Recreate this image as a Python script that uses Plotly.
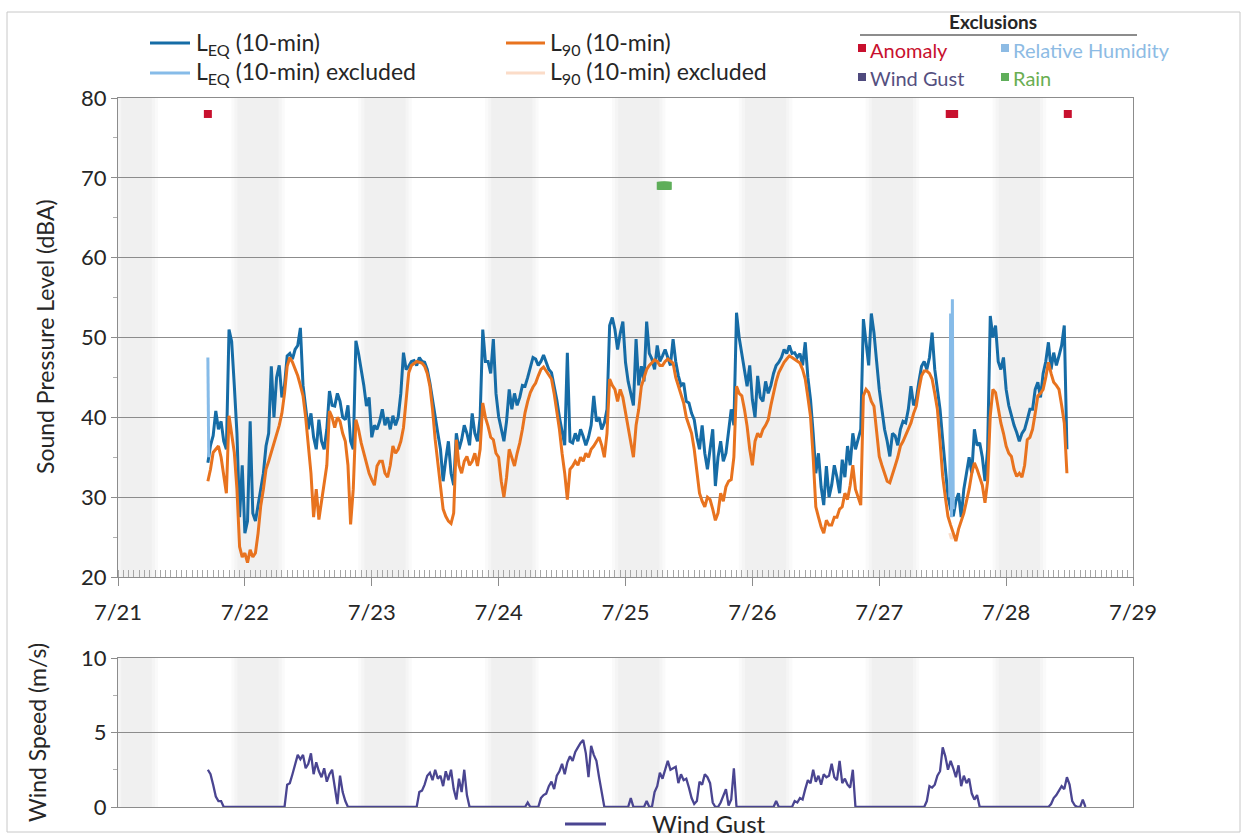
import plotly.graph_objects as go
import pandas as pd

W, H = 1241, 838
FONT = "Lato, 'Open Sans', sans-serif"
START = "2019-07-21 17:00"
STEP = "30min"

# ---------------- data (30-min samples starting 7/21 17:00) ----------------
leq_1 = [34.3, 36.5, 37.7, 40.8, 38.5, 39.5, 37.0, 36.0, 51.0, 49.5, 44.0, 38.0,
         27.5, 34.0, 25.5, 27.0, 39.5, 28.0, 27.0, 29.0, 30.5, 33.0, 36.4, 38.0,
         46.4, 40.0, 45.0, 46.5, 42.5, 44.0, 47.7, 48.0, 47.3, 48.5, 49.0, 51.2,
         44.0, 41.0, 38.5, 40.5, 37.5, 36.0, 39.7, 37.0, 36.0, 38.5, 43.3, 41.5]
leq_2 = [41.4, 43.0, 42.0, 40.0, 39.7, 41.5, 37.0, 36.0, 49.6, 48.0, 46.0, 44.0,
         41.4, 42.5, 37.5, 39.0, 38.5, 39.5, 41.0, 39.0, 40.0, 38.5, 40.2, 39.0,
         40.0, 43.0, 48.1, 46.0, 46.4, 47.0, 47.1, 46.5, 47.5, 47.0, 46.9, 46.0,
         44.3, 42.0, 40.1, 38.0, 36.0, 32.0, 34.7, 37.0, 33.0, 31.5, 38.0, 36.0]
leq_3 = [37.2, 39.0, 38.0, 36.5, 40.5, 38.0, 37.0, 40.0, 51.0, 47.0, 47.0, 45.5,
         49.8, 43.0, 40.1, 38.5, 37.0, 39.5, 43.5, 41.0, 43.0, 41.5, 42.5, 44.0,
         43.9, 45.0, 46.4, 47.5, 47.3, 46.5, 47.0, 47.8, 46.9, 46.0, 45.6, 44.0,
         42.2, 40.0, 38.0, 36.5, 48.1, 37.0, 36.8, 38.0, 37.0, 38.5, 37.6, 36.5]
leq_4 = [37.5, 39.0, 42.7, 39.5, 40.0, 38.5, 39.3, 41.0, 51.5, 52.5, 51.0, 48.5,
         50.5, 52.0, 46.9, 44.5, 43.0, 41.5, 49.8, 44.0, 46.4, 44.5, 52.0, 48.0,
         47.3, 46.0, 49.0, 47.0, 47.7, 48.5, 47.5, 46.5, 49.8, 47.0, 45.2, 44.0,
         44.3, 42.0, 41.8, 40.5, 39.7, 37.5, 36.0, 39.0, 35.5, 33.5, 36.0, 38.5]
leq_5 = [31.4, 35.0, 37.0, 34.5, 35.5, 38.0, 41.0, 39.0, 53.1, 50.0, 48.0, 46.0,
         43.9, 46.5, 42.2, 40.0, 45.2, 42.5, 42.0, 44.5, 43.0, 44.0, 45.5, 46.5,
         46.9, 47.5, 48.5, 48.0, 49.0, 48.0, 48.1, 47.5, 48.0, 46.5, 49.4, 45.0,
         42.2, 38.0, 33.0, 35.5, 31.3, 29.0, 33.9, 30.0, 31.5, 34.0, 32.5, 30.5]
leq_6 = [34.7, 32.5, 36.4, 34.0, 38.0, 36.0, 37.2, 38.5, 52.3, 49.0, 46.5, 53.0,
         50.6, 47.0, 43.5, 41.0, 38.5, 37.0, 35.1, 38.0, 37.7, 36.5, 38.5, 39.5,
         39.3, 41.0, 43.9, 41.5, 42.3, 44.5, 46.4, 47.0, 46.0, 47.5, 50.6, 46.0,
         43.5, 41.0, 37.2, 34.0, 30.1, 28.5, 27.6, 29.5, 30.5, 27.5, 31.0, 33.0]
leq_7 = [35.0, 33.0, 38.5, 36.5, 36.8, 35.0, 32.0, 36.0, 52.7, 50.0, 51.5, 47.0,
         46.0, 47.5, 43.5, 41.5, 40.2, 39.0, 38.1, 37.0, 38.0, 38.5, 39.7, 41.0,
         41.0, 43.5, 44.4, 42.5, 45.5, 47.0, 49.4, 46.0, 48.1, 46.5, 47.7, 49.0,
         51.5, 36.0]

l90_1 = [32.0, 33.5, 35.6, 36.0, 36.4, 35.0, 33.0, 30.5, 40.2, 38.0, 35.6, 31.0,
         23.8, 22.5, 23.0, 21.8, 23.4, 22.5, 23.0, 25.5, 28.9, 31.0, 33.5, 34.5,
         35.6, 36.5, 37.7, 39.0, 40.5, 43.0, 46.4, 47.5, 46.9, 46.0, 45.2, 44.0,
         42.7, 40.0, 36.8, 33.0, 27.5, 31.0, 27.2, 29.5, 31.4, 34.0, 40.8, 40.0]
l90_2 = [38.7, 40.0, 39.5, 38.0, 37.0, 34.0, 26.6, 31.0, 39.7, 38.5, 36.8, 35.5,
         34.3, 33.0, 32.2, 31.5, 33.9, 34.5, 34.5, 33.0, 32.5, 34.0, 36.4, 35.5,
         36.0, 37.0, 38.7, 42.0, 45.6, 46.5, 46.7, 47.0, 46.9, 46.8, 46.4, 45.5,
         43.9, 41.0, 37.2, 34.0, 30.9, 28.5, 27.6, 27.0, 26.7, 28.0, 37.2, 34.0]
l90_3 = [33.0, 34.5, 35.1, 34.0, 34.5, 35.5, 33.9, 36.0, 41.8, 40.0, 38.9, 37.5,
         37.2, 35.5, 35.0, 32.0, 30.0, 32.5, 36.0, 35.0, 33.9, 35.5, 36.8, 38.5,
         40.6, 42.0, 43.1, 43.8, 44.3, 45.2, 46.0, 46.3, 45.8, 45.3, 44.8, 43.0,
         41.0, 38.5, 35.5, 33.0, 29.7, 33.5, 33.9, 34.5, 34.0, 35.0, 34.5, 35.5]
l90_4 = [35.0, 36.0, 36.4, 37.0, 37.5, 36.5, 35.0, 38.0, 44.8, 44.0, 43.5, 42.0,
         43.5, 42.5, 40.6, 38.5, 37.0, 35.0, 39.0, 41.0, 43.9, 45.0, 46.0, 46.5,
         46.9, 47.2, 47.0, 46.5, 46.5, 47.0, 47.3, 47.0, 46.8, 45.0, 43.9, 43.0,
         41.8, 40.0, 38.9, 38.0, 36.0, 33.0, 30.5, 29.5, 28.8, 30.0, 29.7, 28.5]
l90_5 = [27.1, 28.0, 30.5, 29.5, 31.3, 32.0, 32.2, 35.0, 43.9, 43.0, 42.7, 41.0,
         38.9, 36.0, 34.0, 37.0, 38.0, 37.5, 38.5, 39.0, 39.7, 41.5, 43.1, 44.5,
         45.6, 46.3, 46.9, 47.3, 47.7, 47.5, 47.3, 47.0, 46.8, 46.0, 44.8, 42.5,
         40.1, 35.0, 28.8, 27.5, 26.3, 25.5, 27.1, 26.5, 26.5, 27.5, 27.5, 28.5]
l90_6 = [28.8, 30.5, 29.7, 31.5, 34.0, 31.0, 30.1, 29.0, 42.7, 43.5, 43.1, 42.0,
         41.4, 38.0, 35.1, 34.0, 33.0, 32.0, 31.8, 33.0, 33.9, 35.0, 36.4, 37.0,
         37.7, 38.5, 39.3, 40.5, 41.4, 43.5, 45.2, 45.8, 45.8, 45.5, 44.8, 43.0,
         41.0, 37.0, 32.6, 30.0, 27.6, 26.5, 25.5, 24.5, 26.0, 27.0, 28.0, 29.5]
l90_7 = [31.0, 33.0, 34.3, 33.5, 32.6, 31.5, 29.3, 32.0, 40.2, 43.5, 43.1, 41.0,
         39.3, 38.0, 36.4, 35.5, 35.1, 33.5, 32.6, 33.0, 32.5, 34.0, 37.2, 37.5,
         38.5, 40.5, 42.7, 43.0, 43.5, 45.0, 46.9, 45.5, 44.4, 44.0, 43.5, 41.5,
         39.3, 33.0]

wind_1 = [2.5, 2.2, 1.5, 0.7, 0.4, 0.4, 0, 0,
          0, 0, 0, 0, 0, 0, 0, 0, 0, 0, 0, 0, 0, 0, 0, 0, 0, 0, 0, 0, 0, 0,
          1.5, 1.6, 2.2, 2.8, 3.5, 3.2, 3.5, 2.6, 2.9, 3.6, 2.2, 3.0, 2.4, 2.0,
          2.6, 1.7, 2.2, 2.5]
wind_2 = [1.4, 0.2, 2.1, 1.0, 0.4, 0,
          0, 0, 0, 0, 0, 0, 0, 0, 0, 0, 0, 0, 0, 0, 0, 0, 0, 0, 0, 0, 0, 0, 0,
          0, 0, 0,
          1.0, 1.1, 1.5, 2.1, 2.3, 1.8, 2.5, 1.9, 2.1, 1.4, 2.4, 1.8, 2.5, 1.2,
          0.5, 1.9]
wind_3 = [1.0, 2.5, 0.8, 0,
          0, 0, 0, 0, 0, 0, 0, 0, 0, 0, 0, 0, 0, 0, 0, 0, 0, 0, 0, 0,
          0, 0.3, 0, 0, 0, 0,
          0.6, 0.8, 0.9, 1.4, 1.7, 1.2, 2.1, 2.4, 2.9, 2.2, 3.0, 3.4, 3.1, 3.7,
          4.0, 4.3, 4.5, 3.6]
wind_4 = [2.0, 4.1, 3.5, 3.1, 2.0, 0.9, 0,
          0, 0, 0, 0, 0, 0, 0, 0, 0,
          0.6, 0, 0, 0, 0, 0, 0.4, 0, 0,
          1.0, 1.4, 2.3, 1.9, 2.5, 3.1, 2.5, 2.6, 2.7, 1.6, 2.2, 1.8, 1.9, 1.3,
          0.6, 0.2, 0.4, 1.7, 1.5, 2.2, 2.0, 1.6, 0.3]
wind_5 = [0, 0, 0.3, 0.8, 1.2, 0.1, 0.5, 2.6, 0,
          0, 0, 0, 0, 0, 0, 0, 0, 0, 0, 0, 0, 0, 0,
          0.4, 0, 0, 0, 0, 0, 0,
          0.4, 0.3, 0.6, 0.5, 1.2, 1.8, 1.6, 2.5, 1.7, 2.1, 1.5, 2.2, 2.0, 2.1,
          2.9, 2.0, 1.8, 3.1]
wind_6 = [1.6, 1.9, 1.5, 1.3, 2.5, 0,
          0, 0, 0, 0, 0, 0, 0, 0, 0, 0, 0, 0, 0, 0, 0, 0, 0, 0, 0, 0, 0, 0, 0,
          0, 0, 0,
          0.4, 1.4, 1.3, 1.5, 2.1, 2.4, 4.0, 3.4, 2.5, 3.1, 2.6, 2.0, 2.8, 1.4,
          2.1, 1.6]
wind_7 = [1.9, 0.9, 0.5, 0.8, 0,
          0, 0, 0, 0, 0, 0, 0, 0, 0, 0, 0, 0, 0, 0, 0, 0, 0, 0, 0, 0, 0, 0, 0,
          0, 0, 0,
          0.2, 0.6, 0.8, 1.1, 1.4, 1.2, 2.0, 1.5, 0.4, 0.1, 0, 0, 0.5, 0]

# excluded 10-min values
leq_excl_t = ["2019-07-21 17:00", "2019-07-21 17:10", None,
              "2019-07-27 13:20", "2019-07-27 13:30", "2019-07-27 13:40",
              "2019-07-27 13:50", "2019-07-27 14:00"]
leq_excl = [47.5, 35.0, None, 30.0, 53.0, 27.5, 54.8, 28.5]
l90_excl_t = ["2019-07-27 13:20", "2019-07-27 13:30", "2019-07-27 13:40",
              "2019-07-27 13:50", "2019-07-27 14:00"]
l90_excl = [25.5, 25.0, 24.8, 25.0, 25.2]

# exclusion flags
anomaly_t = ["2019-07-21 17:00", "2019-07-27 13:20", "2019-07-27 13:30",
             "2019-07-27 13:40", "2019-07-27 13:50", "2019-07-27 14:00",
             "2019-07-27 14:10", "2019-07-28 11:40"]
anomaly_y = [78, 78, 78, 78, 78, 78, 78, 78]
rain_t = ["2019-07-25 06:40", "2019-07-25 06:50", "2019-07-25 07:00",
          "2019-07-25 07:10", "2019-07-25 07:20", "2019-07-25 07:30",
          "2019-07-25 07:40", "2019-07-25 07:50", "2019-07-25 08:00"]
rain_y = [69, 69, 69, 69, 69, 69, 69, 69, 69]

night_start = ["2019-07-21 00:00", "2019-07-21 22:00", "2019-07-22 22:00",
               "2019-07-23 22:00", "2019-07-24 22:00", "2019-07-25 22:00",
               "2019-07-26 22:00", "2019-07-27 22:00"]
night_end = ["2019-07-21 07:00", "2019-07-22 07:00", "2019-07-23 07:00",
             "2019-07-24 07:00", "2019-07-25 07:00", "2019-07-26 07:00",
             "2019-07-27 07:00", "2019-07-28 07:00"]

x_range = ["2019-07-21 00:00", "2019-07-29 00:00"]

leq = leq_1 + leq_2 + leq_3 + leq_4 + leq_5 + leq_6 + leq_7
l90 = l90_1 + l90_2 + l90_3 + l90_4 + l90_5 + l90_6 + l90_7
wind = wind_1 + wind_2 + wind_3 + wind_4 + wind_5 + wind_6 + wind_7
t_main = pd.date_range(START, periods=len(leq), freq=STEP)
t_wind = pd.date_range(START, periods=len(wind), freq=STEP)

# ---------------- styles ----------------
C_LEQ = "#166ca6"
C_L90 = "#e8731f"
C_LEQX = "#86bbe8"
C_L90X = "#fbdcc8"
C_WIND = "#4a4591"
C_ANOM = "#c8102e"
C_RH = "#8dbbe4"
C_RAIN = "#5fae5a"
C_GRID = "#8c8c8c"
C_TXT = "#262626"


def px(x):
    return x / W


def py(y):
    return 1 - y / H


TOP_DOM = [py(577), py(98)]
BOT_DOM = [py(807), py(658)]
X_DOM = [px(118), px(1133)]

fig = go.Figure()
fig.add_trace(go.Scatter(x=t_main, y=leq, mode="lines", line=dict(color=C_LEQ, width=3),
                         xaxis="x", yaxis="y", showlegend=False))
fig.add_trace(go.Scatter(x=l90_excl_t, y=l90_excl, mode="lines", line=dict(color=C_L90X, width=3),
                         xaxis="x", yaxis="y", showlegend=False))
fig.add_trace(go.Scatter(x=t_main, y=l90, mode="lines", line=dict(color=C_L90, width=3),
                         xaxis="x", yaxis="y", showlegend=False))
fig.add_trace(go.Scatter(x=leq_excl_t, y=leq_excl, mode="lines", line=dict(color=C_LEQX, width=3),
                         connectgaps=False, xaxis="x", yaxis="y", showlegend=False))
fig.add_trace(go.Scatter(x=anomaly_t, y=anomaly_y, mode="markers",
                         marker=dict(symbol="square", size=8, color=C_ANOM),
                         xaxis="x", yaxis="y", showlegend=False))
fig.add_trace(go.Scatter(x=rain_t, y=rain_y, mode="markers",
                         marker=dict(symbol="square", size=8, color=C_RAIN),
                         xaxis="x", yaxis="y", showlegend=False))
fig.add_trace(go.Scatter(x=t_wind, y=wind, mode="lines", line=dict(color=C_WIND, width=2.3),
                         xaxis="x2", yaxis="y2", showlegend=False))

shapes = []
# night shading (soft edges from stacked translucent bands)
for s, e in zip(night_start, night_end):
    s_t, e_t = pd.Timestamp(s), pd.Timestamp(e)
    for pad, a in [(35, 0.018), (0, 0.02), (-35, 0.02)]:
        x0 = max(s_t - pd.Timedelta(minutes=pad), pd.Timestamp(x_range[0]))
        x1 = e_t + pd.Timedelta(minutes=pad)
        for dom in (TOP_DOM, BOT_DOM):
            shapes.append(dict(type="rect", xref="x", yref="paper", x0=x0, x1=x1,
                               y0=dom[0], y1=dom[1], line=dict(width=0),
                               fillcolor=f"rgba(0,0,0,{a})", layer="below"))

# outer frame
shapes.append(dict(type="rect", xref="paper", yref="paper", x0=px(7), x1=px(1240),
                   y0=py(832), y1=py(12), line=dict(color="#c8c8c8", width=1)))

annotations = []


def legend_line(x0, x1, y, color, width=3):
    shapes.append(dict(type="line", xref="paper", yref="paper", x0=px(x0), x1=px(x1),
                       y0=py(y), y1=py(y), line=dict(color=color, width=width)))


def text(x, y, s, size=21, color=C_TXT, xanchor="left", angle=0):
    annotations.append(dict(xref="paper", yref="paper", x=px(x), y=py(y), text=s,
                            showarrow=False, xanchor=xanchor, yanchor="middle",
                            textangle=angle, font=dict(family=FONT, size=size, color=color)))


def square(x, y, color, s=4):
    shapes.append(dict(type="rect", xref="paper", yref="paper", x0=px(x - s), x1=px(x + s),
                       y0=py(y + s), y1=py(y - s), fillcolor=color, line=dict(width=0)))


legend_line(150, 190, 43, C_LEQ)
text(194, 43, "L<sub>EQ</sub> (10-min)", size=23)
legend_line(150, 190, 73, C_LEQX)
text(194, 73, "L<sub>EQ</sub> (10-min) excluded", size=23)
legend_line(506, 545, 43, C_L90)
text(548, 43, "L<sub>90</sub> (10-min)", size=23)
legend_line(506, 545, 73, C_L90X)
text(548, 73, "L<sub>90</sub> (10-min) excluded", size=23)

text(993, 22, "<b>Exclusions</b>", size=19, xanchor="center")
shapes.append(dict(type="line", xref="paper", yref="paper", x0=px(860), x1=px(1137),
                   y0=py(35), y1=py(35), line=dict(color="#1a1a1a", width=1)))
square(862, 48, C_ANOM)
text(868, 50, "Anomaly", size=20, color=C_ANOM)
square(1005, 48, C_RH)
text(1011, 50, "Relative Humidity", size=20, color=C_RH)
square(862, 77, "#4f4a7e")
text(868, 78, "Wind Gust", size=20, color="#55507f")
square(1005, 77, C_RAIN)
text(1011, 78, "Rain", size=20, color="#6aae52")

legend_line(565, 606, 824, C_WIND)
text(650, 823, "Wind Gust", size=24)

text(45, 337, "Sound Pressure Level (dBA)", size=23, xanchor="center", angle=-90)
text(37, 733, "Wind Speed (m/s)", size=23, xanchor="center", angle=-90)

axis_common = dict(showline=True, linecolor=C_GRID, linewidth=1, mirror=True,
                   zeroline=False, automargin=False,
                   tickfont=dict(family=FONT, size=22, color=C_TXT))

fig.update_layout(
    width=W, height=H, autosize=False,
    margin=dict(l=0, r=0, t=0, b=0, pad=0),
    paper_bgcolor="white", plot_bgcolor="white",
    font=dict(family=FONT, color=C_TXT),
    showlegend=False,
    shapes=shapes, annotations=annotations,
    xaxis=dict(domain=X_DOM, anchor="y", type="date", range=x_range,
               tick0="2019-07-21", dtick=86400000, tickformat="%-m/%-d",
               ticks="outside", ticklen=8, tickcolor=C_GRID, showgrid=False,
               ticklabelstandoff=8,
               minor=dict(dtick=3600000, ticks="inside", ticklen=7, tickcolor="#a6a6a6",
                          showgrid=False),
               **axis_common),
    yaxis=dict(domain=TOP_DOM, anchor="x", range=[20, 80], tick0=20, dtick=10,
               showgrid=True, gridcolor=C_GRID, gridwidth=1,
               ticks="outside", ticklen=6, tickcolor=C_GRID,
               minor=dict(dtick=5, ticks="outside", ticklen=4, tickcolor="#b0b0b0", showgrid=False),
               **axis_common),
    xaxis2=dict(domain=X_DOM, anchor="y2", type="date", range=x_range,
                showticklabels=False, ticks="", showgrid=False, **axis_common),
    yaxis2=dict(domain=BOT_DOM, anchor="x2", range=[0, 10], tick0=0, dtick=5,
                showgrid=True, gridcolor=C_GRID, gridwidth=1,
                ticks="outside", ticklen=6, tickcolor=C_GRID,
                minor=dict(dtick=2.5, ticks="outside", ticklen=4, tickcolor="#b0b0b0", showgrid=False),
                **axis_common),
)

fig.write_html("out.html")
